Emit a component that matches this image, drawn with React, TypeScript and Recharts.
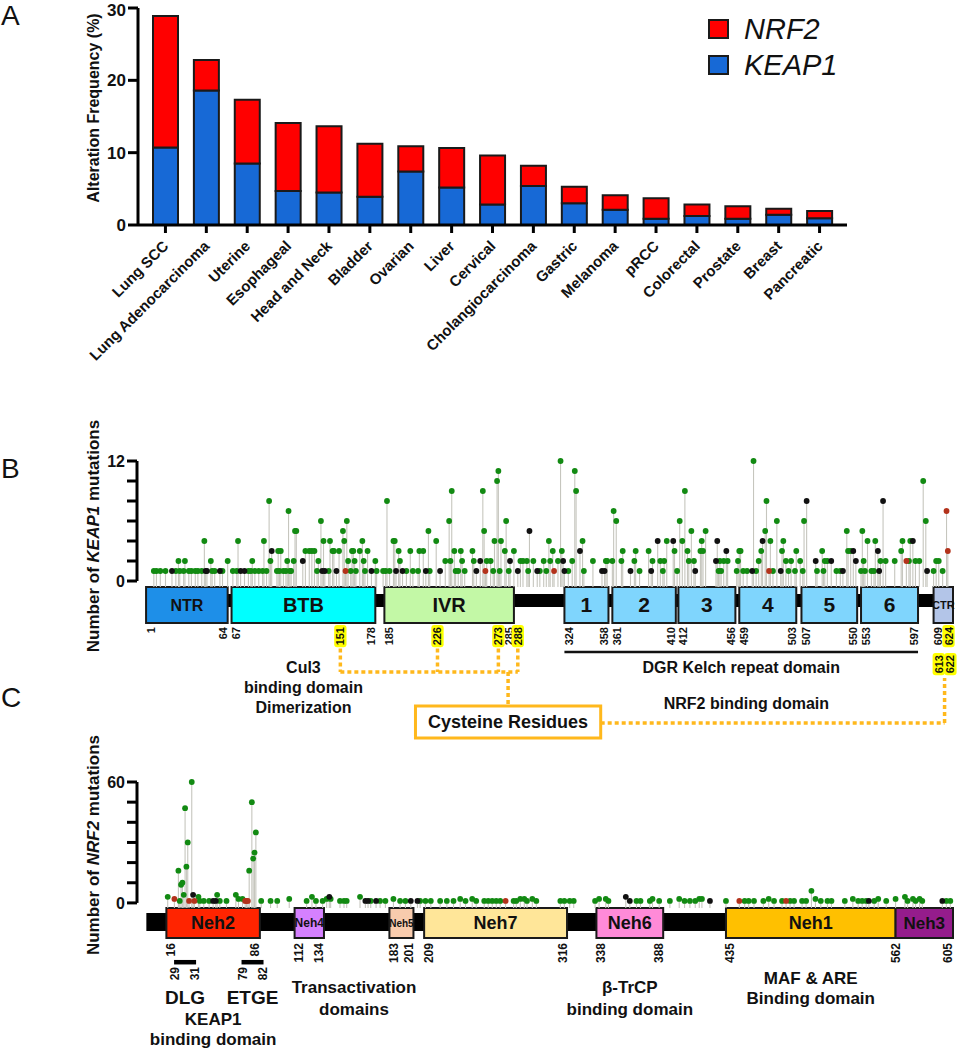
import React from "react";
import {
  BarChart,
  Bar,
  XAxis,
  YAxis,
  Legend,
  ScatterChart,
  Scatter,
  ReferenceArea,
  ReferenceLine,
  ReferenceDot,
} from "recharts";

const FONT = "'Liberation Sans', Arial, Helvetica, sans-serif";

// ---------- Panel A: alteration frequency ----------
const cancerTypes = [
  "Lung SCC", "Lung Adenocarcinoma", "Uterine", "Esophageal", "Head and Neck", "Bladder",
  "Ovarian", "Liver", "Cervical", "Cholangiocarcinoma", "Gastric", "Melanoma", "pRCC",
  "Colorectal", "Prostate", "Breast", "Pancreatic",
];
const keap1Freq = [10.7, 18.6, 8.5, 4.7, 4.5, 3.9, 7.4, 5.2, 2.85, 5.4, 3.0, 2.1, 0.85, 1.25, 0.85, 1.4, 0.95];
const nrf2Freq = [18.2, 4.2, 8.8, 9.4, 9.15, 7.35, 3.5, 5.45, 6.75, 2.8, 2.3, 2.0, 2.85, 1.6, 1.75, 0.85, 1.0];
const freqTicks = [0, 10, 20, 30];

// ---------- Panel B: KEAP1 protein ----------
const keap1Length = 624;
const keap1DomainNames = ["NTR", "BTB", "IVR", "1", "2", "3", "4", "5", "6", "CTR"];
const keap1DomainStart = [1, 67, 185, 324, 361, 412, 459, 507, 553, 609];
const keap1DomainEnd = [64, 178, 285, 358, 410, 456, 503, 550, 597, 624];
const keap1Cysteines = [151, 226, 273, 288, 624];
const keap1LowerCysteines = [613, 622];
const kelchStart = 324;
const kelchEnd = 597;
const keap1Ticks = [0, 2, 4, 6, 8, 10, 12];

// mutations: [residue, count]
const keap1MissenseOnce = [
  7, 9, 12, 16, 24, 27, 30, 34, 36, 39, 41, 44, 52, 54, 60, 68, 71, 80, 82, 85, 88, 91, 94, 102, 104,
  107, 109, 112, 113, 133, 142, 159, 163, 170, 179, 184, 186, 189, 202, 207, 211, 220, 240, 242, 247,
  269, 274, 281, 296, 305, 310, 327, 339, 382, 400, 411, 443, 445, 457, 462, 465, 472, 485, 497, 502,
  508, 519, 524, 534, 537, 553, 556, 561, 563, 609, 616,
];
const keap1MissenseTwice = [
  26, 31, 51, 64, 83, 97, 110, 115, 134, 157, 162, 169, 178, 197, 232, 236, 245, 254, 264, 267, 290,
  292, 295, 300, 308, 313, 319, 330, 346, 356, 357, 361, 368, 378, 392, 398, 401, 420, 424, 444, 447,
  450, 458, 474, 495, 499, 506, 525, 527, 555, 568, 572, 579, 590, 595, 598, 611, 613,
];
const keap1MissenseHigh = [
  [46, 4], [72, 4], [92, 4], [96, 8], [103, 3], [105, 3], [111, 7], [116, 5], [117, 5], [124, 3],
  [127, 3], [129, 3], [131, 3], [136, 6], [138, 4], [143, 4], [145, 3], [146, 3], [150, 3], [153, 5],
  [154, 4], [156, 6], [160, 3], [161, 3], [166, 3], [168, 4], [172, 3], [187, 8], [192, 4], [193, 4],
  [196, 3], [205, 3], [212, 3], [215, 3], [219, 5], [225, 4], [235, 6], [237, 9], [239, 3], [244, 3],
  [253, 3], [261, 9], [262, 5], [270, 4], [272, 10], [273, 11], [275, 4], [278, 3], [279, 6], [285, 3],
  [312, 4], [315, 3], [321, 12], [322, 3], [332, 11], [333, 9], [338, 4], [362, 7], [364, 6], [369, 3],
  [379, 3], [389, 3], [403, 4], [409, 3], [413, 6], [415, 4], [417, 9], [419, 3], [422, 5], [429, 3],
  [430, 4], [431, 3], [433, 5], [459, 3], [460, 3], [470, 12], [476, 3], [479, 5], [480, 8], [483, 4],
  [488, 6], [492, 3], [493, 4], [503, 3], [509, 6], [523, 3], [542, 5], [543, 3], [545, 3], [554, 5],
  [558, 4], [564, 4], [584, 3], [585, 4], [591, 4], [601, 10], [603, 6],
];
const keap1Truncating = [
  [21, 1], [47, 1], [48, 1], [58, 1], [74, 1], [77, 1], [137, 1], [139, 1], [148, 1], [175, 1],
  [194, 1], [199, 1], [217, 1], [228, 1], [256, 1], [288, 1], [303, 1], [324, 1], [353, 1], [355, 1],
  [375, 1], [391, 1], [425, 1], [469, 1], [491, 1], [539, 1], [567, 1], [604, 1],
  [122, 2], [259, 2], [282, 2], [323, 2], [441, 2], [518, 2], [530, 2], [549, 2],
  [98, 3], [297, 5], [336, 3], [396, 4], [408, 4], [442, 4], [449, 3], [477, 4], [511, 8], [547, 3],
  [566, 3], [570, 8], [593, 4],
];
const keap1Other = [[155, 1], [263, 1], [316, 1], [482, 1], [588, 2], [619, 7], [620, 3]];

// ---------- Panel C: NRF2 protein ----------
const nrf2Length = 605;
const nrf2DomainNames = ["Neh2", "Neh4", "Neh5", "Neh7", "Neh6", "Neh1", "Neh3"];
const nrf2DomainStart = [16, 112, 183, 209, 338, 435, 562];
const nrf2DomainEnd = [86, 134, 201, 316, 388, 562, 605];
const nrf2MotifNames = ["DLG", "ETGE"];
const nrf2MotifStart = [29, 79];
const nrf2MotifEnd = [31, 82];
const nrf2Ticks = [0, 10, 20, 30, 40, 50, 60];

const nrf2MissenseOnce = [
  26, 41, 44, 48, 56, 61, 87, 94, 99, 121, 128, 133, 146, 149, 151, 169, 176, 180, 191, 195, 206, 210,
  214, 221, 226, 231, 240, 248, 254, 257, 260, 263, 266, 276, 278, 286, 293, 311, 314, 318, 321, 337,
  347, 368, 371, 378, 385, 393, 404, 408, 412, 435, 449, 452, 456, 463, 471, 477, 483, 486, 492, 495,
  506, 511, 514, 524, 534, 537, 540, 546, 555, 571, 577, 582, 600, 603,
];
const nrf2MissenseTwice = [
  108, 136, 139, 186, 236, 245, 281, 284, 290, 340, 345, 380, 400, 415, 417, 467, 502, 530, 549, 562,
  575, 580,
];
const nrf2MissenseHigh = [
  [35, 60], [30, 47], [32, 30], [31, 18], [25, 16], [27, 9], [28, 10], [29, 4], [17, 3], [40, 3],
  [54, 4], [68, 4], [80, 50], [83, 35], [82, 25], [81, 22], [78, 16], [70, 2], [73, 2], [125, 3],
  [161, 3], [569, 3], [499, 6],
];
const nrf2Truncating = [
  [36, 4], [51, 1], [53, 1], [138, 3], [165, 1], [167, 1], [173, 1], [199, 1], [204, 1], [360, 3],
  [363, 1], [423, 1], [542, 1], [597, 1],
];
const nrf2Other = [[22, 2], [33, 1], [37, 1], [75, 1], [76, 1], [77, 1], [270, 1], [445, 1], [480, 1]];

// ---------- styles ----------
const GREEN = "#128a12";
const BLACK = "#111111";
const BROWN = "#b3321b";
const STEM = "#c6c6be";
const ORANGE = "#FFB81C";
const BOX_STROKE = "#1a1a1a";

const keap1Fill: Record<string, string> = {
  NTR: "#1e8fe8", BTB: "#00ffff", IVR: "#c3f8a6", "1": "#7fd5fd", "2": "#7fd5fd", "3": "#7fd5fd",
  "4": "#7fd5fd", "5": "#7fd5fd", "6": "#7fd5fd", CTR: "#b3c5e8",
};
const keap1LabelSize: Record<string, number> = { NTR: 16, BTB: 20, IVR: 20, CTR: 11 };
const nrf2Fill: Record<string, string> = {
  Neh2: "#ff2400", Neh4: "#d580ff", Neh5: "#f8cbad", Neh7: "#ffe699", Neh6: "#ff8ad8",
  Neh1: "#ffc000", Neh3: "#951c8c",
};
const nrf2LabelSize: Record<string, number> = { Neh4: 12, Neh5: 10, Neh3: 17 };

// chart geometry (plot height / domain span gives px per count)
const B_H = 340, B_TOP = 51, B_BOTTOM = 9, B_MIN = -16, B_MAX = 12;
const B_PPU = (B_H - B_TOP - B_BOTTOM) / (B_MAX - B_MIN);
const C_H = 330, C_TOP = 62, C_BOTTOM = 2, C_MIN = -72, C_MAX = 60;
const C_PPU = (C_H - C_TOP - C_BOTTOM) / (C_MAX - C_MIN);

const barData = cancerTypes.map((type, i) => ({ type, keap1: keap1Freq[i], nrf2: nrf2Freq[i] }));
const toPoints = (rows: number[][]) => rows.map(([pos, count]) => ({ pos, count }));
const withCount = (list: number[], count: number) => list.map((pos) => ({ pos, count }));

const keapGreen = [
  ...withCount(keap1MissenseOnce, 1),
  ...withCount(keap1MissenseTwice, 2),
  ...toPoints(keap1MissenseHigh),
];
const keapBlack = toPoints(keap1Truncating);
const keapBrown = toPoints(keap1Other);
const keapAll = [...keapGreen, ...keapBlack, ...keapBrown];

const nrfGreen = [
  ...withCount(nrf2MissenseOnce, 1),
  ...withCount(nrf2MissenseTwice, 2),
  ...toPoints(nrf2MissenseHigh),
];
const nrfBlack = toPoints(nrf2Truncating);
const nrfBrown = toPoints(nrf2Other);
const nrfAll = [...nrfGreen, ...nrfBlack, ...nrfBrown];

function boundaryLabels(starts: number[], ends: number[], extras: number[], highlight: number[]) {
  const m = new Map<number, number>();
  starts.forEach((v) => m.set(v, ends.includes(v) ? 0 : 4.5));
  ends.forEach((v) => m.set(v, starts.includes(v) ? 0 : -4.5));
  extras.forEach((v) => {
    if (!m.has(v)) m.set(v, 0);
  });
  return Array.from(m.entries()).map(([v, dx]) => ({ v, dx, hl: highlight.includes(v) }));
}

// ---------- shapes ----------
const stemShape = (ppu: number, base: number) => (p: any) => {
  if (p.cx == null || p.cy == null) return <g />;
  const c = p.payload ? p.payload.count : p.count;
  return <line x1={p.cx} x2={p.cx} y1={p.cy} y2={p.cy + (c - base) * ppu} stroke={STEM} strokeWidth={1.1} />;
};
const dotShape = (fill: string) => (p: any) => {
  if (p.cx == null || p.cy == null) return <g />;
  return <circle cx={p.cx} cy={p.cy} r={2.9} fill={fill} />;
};
const numShape = (text: string, dx: number, hl: boolean, size: number) => (p: any) => {
  const x = p.cx + dx;
  const y = p.cy;
  const len = text.length * size * 0.556;
  return (
    <g>
      {hl && <rect x={x - size * 0.56} y={y - 2} width={size * 1.12} height={len + 4} rx={3} fill="#ffff00" />}
      <text
        x={x}
        y={y}
        transform={`rotate(-90 ${x} ${y})`}
        textAnchor="end"
        dominantBaseline="central"
        fontSize={size}
        fontWeight="bold"
        fontFamily={FONT}
        fill="#111"
      >
        {text}
      </text>
    </g>
  );
};
const textShape = (text: React.ReactNode, size: number) => (p: any) => (
  <text
    x={p.cx}
    y={p.cy}
    textAnchor="middle"
    dominantBaseline="central"
    fontSize={size}
    fontWeight="bold"
    fontFamily={FONT}
    fill="#111"
  >
    {text}
  </text>
);
const motifShape = (a: number, b: number) => (p: any) => {
  const yl = p.cy + 5;
  const n1 = p.cx - 10;
  const n2 = p.cx + 10;
  return (
    <g>
      <rect x={p.cx - 11} y={p.cy - 2} width={22} height={4.5} fill="#000" />
      {[
        [n1, a],
        [n2, b],
      ].map(([x, v]) => (
        <text
          key={v}
          x={x}
          y={yl}
          transform={`rotate(-90 ${x} ${yl})`}
          textAnchor="end"
          dominantBaseline="central"
          fontSize={12}
          fontWeight="bold"
          fontFamily={FONT}
          fill="#111"
        >
          {v}
        </text>
      ))}
    </g>
  );
};
const sparseTick = (show: number[]) => (p: any) => {
  if (!show.includes(p.payload.value)) return <g />;
  return (
    <text x={p.x} y={p.y} dy="0.36em" textAnchor="end" fontSize={16} fontWeight="bold" fontFamily={FONT} fill="#111">
      {p.payload.value}
    </text>
  );
};
const CategoryTick = (p: any) => {
  const x = p.x + 4;
  const y = p.y + 12;
  return (
    <text
      x={x}
      y={y}
      transform={`rotate(-45 ${x} ${y})`}
      textAnchor="end"
      fontSize={15}
      fontWeight="bold"
      fontFamily={FONT}
      fill="#111"
    >
      {p.payload.value}
    </text>
  );
};
const verticalTitle = (x: number, y: number, size: number, parts: [string, boolean][]) => () => (
  <text
    x={x}
    y={y}
    transform={`rotate(-90 ${x} ${y})`}
    textAnchor="middle"
    dominantBaseline="central"
    fontSize={size}
    fontWeight="bold"
    fontFamily={FONT}
    fill="#111"
  >
    {parts.map(([t, it], i) => (
      <tspan key={i} fontStyle={it ? "italic" : "normal"}>
        {t}
      </tspan>
    ))}
  </text>
);

const LegendBox = (props: any) => {
  const items = [...(props.payload || [])].sort((a: any, b: any) => (a.value === "NRF2" ? -1 : b.value === "NRF2" ? 1 : 0));
  return (
    <div style={{ fontFamily: FONT }}>
      {items.map((it: any) => (
        <div key={it.value} style={{ display: "flex", alignItems: "center", height: 36 }}>
          <span
            style={{
              display: "inline-block",
              width: 17,
              height: 16,
              border: "2px solid #1a1a1a",
              background: it.color,
              marginRight: 15,
            }}
          />
          <span style={{ fontStyle: "italic", fontSize: 29, lineHeight: "29px", color: "#111" }}>{it.value}</span>
        </div>
      ))}
    </div>
  );
};

function PanelA() {
  return (
    <BarChart width={958} height={380} data={barData} margin={{ top: 8, right: 111, bottom: 125, left: 78 }}>
      <XAxis
        dataKey="type"
        interval={0}
        padding={{ left: 7, right: 7 }}
        axisLine={{ stroke: "#000", strokeWidth: 3 }}
        tickLine={{ stroke: "#000", strokeWidth: 3 }}
        tickSize={8}
        tick={CategoryTick}
        height={30}
      />
      <YAxis
        domain={[0, 30]}
        ticks={freqTicks}
        width={60}
        axisLine={{ stroke: "#000", strokeWidth: 3 }}
        tickLine={{ stroke: "#000", strokeWidth: 3 }}
        tickSize={10}
        tick={{ fontSize: 17, fontWeight: "bold", fill: "#111", fontFamily: FONT }}
        label={verticalTitle(93, 108, 16, [["Alteration Frequency (%)", false]])}
      />
      <Legend
        layout="vertical"
        align="center"
        verticalAlign="middle"
        wrapperStyle={{ left: 708, top: 11, width: 200 }}
        content={LegendBox}
      />
      <Bar dataKey="keap1" name="KEAP1" stackId="s" fill="#1769d6" stroke="#1a1a1a" strokeWidth={2} barSize={25} isAnimationActive={false} />
      <Bar dataKey="nrf2" name="NRF2" stackId="s" fill="#ff0000" stroke="#1a1a1a" strokeWidth={2} barSize={25} isAnimationActive={false} />
    </BarChart>
  );
}

function PanelB() {
  const labels = boundaryLabels(keap1DomainStart, keap1DomainEnd, keap1Cysteines, keap1Cysteines);
  const hub = (keap1Cysteines[2] + keap1Cysteines[3]) / 2;
  const lowerHub = (keap1LowerCysteines[0] + keap1LowerCysteines[1]) / 2;
  const btbMid = (keap1DomainStart[1] + keap1DomainEnd[1]) / 2;
  const kelchMid = (kelchStart + kelchEnd) / 2;
  const dots = { stroke: ORANGE, strokeWidth: 3.5, strokeDasharray: "4 3" };
  return (
    <ScatterChart width={958} height={B_H} margin={{ top: B_TOP, right: 5, bottom: B_BOTTOM, left: 77 }}>
      <XAxis type="number" dataKey="pos" domain={[-6, keap1Length]} hide />
      <YAxis
        type="number"
        dataKey="count"
        domain={[B_MIN, B_MAX]}
        ticks={keap1Ticks}
        interval={0}
        width={60}
        axisLine={false}
        tickLine={{ stroke: "#000", strokeWidth: 3 }}
        tickSize={10}
        tick={sparseTick([0, 12])}
        label={verticalTitle(93, 126, 17, [["Number of ", false], ["KEAP1", true], [" mutations", false]])}
      />
      <ReferenceLine segment={[{ x: -6, y: 0 }, { x: -6, y: 12 }]} stroke="#000" strokeWidth={3} />
      <ReferenceArea x1={1} x2={keap1Length} y1={-2.6} y2={-1.3} fill="#000" fillOpacity={1} />
      {keap1DomainNames.map((n, i) => (
        <ReferenceArea
          key={n}
          x1={keap1DomainStart[i]}
          x2={keap1DomainEnd[i]}
          y1={-4.2}
          y2={-0.6}
          fill={keap1Fill[n]}
          fillOpacity={1}
          stroke={BOX_STROKE}
          strokeWidth={2}
          label={{ value: n, position: "center", fontSize: keap1LabelSize[n] || 21, fontWeight: "bold", fill: "#111", fontFamily: FONT }}
        />
      ))}
      {labels.map((l) => (
        <ReferenceDot key={l.v} x={l.v} y={-4.6} r={0} ifOverflow="visible" shape={numShape(String(l.v), l.dx, l.hl, 11)} />
      ))}
      {keap1LowerCysteines.map((v) => (
        <ReferenceDot key={v} x={v} y={-7.4} r={0} ifOverflow="visible" shape={numShape(String(v), 0, true, 11)} />
      ))}
      {keap1Cysteines.slice(0, 4).map((v) => (
        <ReferenceLine key={v} segment={[{ x: v, y: -6.75 }, { x: v, y: -9.1 }]} {...dots} />
      ))}
      <ReferenceLine segment={[{ x: keap1Cysteines[0], y: -9.1 }, { x: keap1Cysteines[3], y: -9.1 }]} {...dots} />
      <ReferenceLine segment={[{ x: hub, y: -9.1 }, { x: hub, y: -12.5 }]} {...dots} />
      <ReferenceLine segment={[{ x: hub + 71.5, y: -14.2 }, { x: lowerHub, y: -14.2 }]} {...dots} />
      <ReferenceLine segment={[{ x: lowerHub, y: -14.2 }, { x: lowerHub, y: -9.7 }]} {...dots} />
      <ReferenceArea
        x1={hub - 71.5}
        x2={hub + 71.5}
        y1={-15.7}
        y2={-12.5}
        fill="#fff"
        fillOpacity={1}
        stroke={ORANGE}
        strokeWidth={3}
        label={{ value: "Cysteine Residues", position: "center", fontSize: 18, fontWeight: "bold", fill: "#111", fontFamily: FONT }}
      />
      <ReferenceLine segment={[{ x: kelchStart, y: -7.1 }, { x: kelchEnd, y: -7.1 }]} stroke="#111" strokeWidth={2.5} />
      <ReferenceDot x={kelchMid} y={-8.6} r={0} ifOverflow="visible" shape={textShape("DGR Kelch repeat domain", 16)} />
      <ReferenceDot x={kelchMid + 4} y={-12.2} r={0} ifOverflow="visible" shape={textShape("NRF2 binding domain", 16)} />
      <ReferenceDot x={btbMid} y={-8.6} r={0} ifOverflow="visible" shape={textShape("Cul3", 16)} />
      <ReferenceDot x={btbMid} y={-10.6} r={0} ifOverflow="visible" shape={textShape("binding domain", 16)} />
      <ReferenceDot x={btbMid} y={-12.6} r={0} ifOverflow="visible" shape={textShape("Dimerization", 16)} />
      <Scatter data={keapAll} shape={stemShape(B_PPU, -0.6)} isAnimationActive={false} />
      <Scatter data={keapGreen} shape={dotShape(GREEN)} isAnimationActive={false} />
      <Scatter data={keapBlack} shape={dotShape(BLACK)} isAnimationActive={false} />
      <Scatter data={keapBrown} shape={dotShape(BROWN)} isAnimationActive={false} />
    </ScatterChart>
  );
}

function PanelC() {
  const labels = boundaryLabels(nrf2DomainStart, nrf2DomainEnd, [], []);
  const mid = (i: number) => (nrf2DomainStart[i] + nrf2DomainEnd[i]) / 2;
  const transMid = (nrf2DomainStart[1] + nrf2DomainEnd[2]) / 2;
  return (
    <ScatterChart width={958} height={C_H} margin={{ top: C_TOP, right: 5, bottom: C_BOTTOM, left: 77 }}>
      <XAxis type="number" dataKey="pos" domain={[-6, nrf2Length]} hide />
      <YAxis
        type="number"
        dataKey="count"
        domain={[C_MIN, C_MAX]}
        ticks={nrf2Ticks}
        interval={0}
        width={60}
        axisLine={false}
        tickLine={{ stroke: "#000", strokeWidth: 3 }}
        tickSize={10}
        tick={sparseTick([0, 60])}
        label={verticalTitle(93, 125, 17, [["Number of ", false], ["NRF2", true], [" mutations", false]])}
      />
      <ReferenceLine segment={[{ x: -6, y: 0 }, { x: -6, y: 60 }]} stroke="#000" strokeWidth={3} />
      <ReferenceArea x1={1} x2={nrf2Length} y1={-13.9} y2={-5} fill="#000" fillOpacity={1} />
      {nrf2DomainNames.map((n, i) => (
        <ReferenceArea
          key={n}
          x1={nrf2DomainStart[i]}
          x2={nrf2DomainEnd[i]}
          y1={-17.4}
          y2={-2.5}
          fill={nrf2Fill[n]}
          fillOpacity={1}
          stroke={BOX_STROKE}
          strokeWidth={2}
          label={{ value: n, position: "center", fontSize: nrf2LabelSize[n] || 18, fontWeight: "bold", fill: "#111", fontFamily: FONT }}
        />
      ))}
      {labels.map((l) => (
        <ReferenceDot key={l.v} x={l.v} y={-19.9} r={0} ifOverflow="visible" shape={numShape(String(l.v), l.dx, false, 12)} />
      ))}
      {nrf2MotifNames.map((m, i) => (
        <ReferenceDot
          key={m}
          x={(nrf2MotifStart[i] + nrf2MotifEnd[i]) / 2}
          y={-29.3}
          r={0}
          ifOverflow="visible"
          shape={motifShape(nrf2MotifStart[i], nrf2MotifEnd[i])}
        />
      ))}
      {nrf2MotifNames.map((m, i) => (
        <ReferenceDot
          key={m + "t"}
          x={(nrf2MotifStart[i] + nrf2MotifEnd[i]) / 2}
          y={-46.7}
          r={0}
          ifOverflow="visible"
          shape={textShape(m, 19)}
        />
      ))}
      <ReferenceDot x={mid(0)} y={-57.8} r={0} ifOverflow="visible" shape={textShape("KEAP1", 17)} />
      <ReferenceDot x={mid(0)} y={-68} r={0} ifOverflow="visible" shape={textShape("binding domain", 17)} />
      <ReferenceDot x={transMid} y={-42.2} r={0} ifOverflow="visible" shape={textShape("Transactivation", 17)} />
      <ReferenceDot x={transMid} y={-53.1} r={0} ifOverflow="visible" shape={textShape("domains", 17)} />
      <ReferenceDot x={mid(4)} y={-42.2} r={0} ifOverflow="visible" shape={textShape("\u03b2-TrCP", 17)} />
      <ReferenceDot x={mid(4)} y={-53.1} r={0} ifOverflow="visible" shape={textShape("binding domain", 17)} />
      <ReferenceDot x={mid(5)} y={-37.3} r={0} ifOverflow="visible" shape={textShape("MAF & ARE", 17)} />
      <ReferenceDot x={mid(5)} y={-47.2} r={0} ifOverflow="visible" shape={textShape("Binding domain", 17)} />
      <Scatter data={nrfAll} shape={stemShape(C_PPU, -2.5)} isAnimationActive={false} />
      <Scatter data={nrfGreen} shape={dotShape(GREEN)} isAnimationActive={false} />
      <Scatter data={nrfBlack} shape={dotShape(BLACK)} isAnimationActive={false} />
      <Scatter data={nrfBrown} shape={dotShape(BROWN)} isAnimationActive={false} />
    </ScatterChart>
  );
}

export default function App() {
  return (
    <div style={{ position: "absolute", left: 0, top: 0, width: 958, height: 1050, background: "#fff", overflow: "hidden" }}>
      <div style={{ position: "absolute", left: 0, top: 0 }}>
        <PanelA />
      </div>
      <div style={{ position: "absolute", left: 0, top: 410 }}>
        <PanelB />
      </div>
      <div style={{ position: "absolute", left: 0, top: 720 }}>
        <PanelC />
      </div>
      <svg width={958} height={1050} style={{ position: "absolute", left: 0, top: 0, pointerEvents: "none" }}>
        <text x={1} y={25} fontSize={28} fontFamily={FONT} fill="#111">A</text>
        <text x={1} y={478} fontSize={28} fontFamily={FONT} fill="#111">B</text>
        <text x={1} y={707} fontSize={28} fontFamily={FONT} fill="#111">C</text>
      </svg>
    </div>
  );
}
